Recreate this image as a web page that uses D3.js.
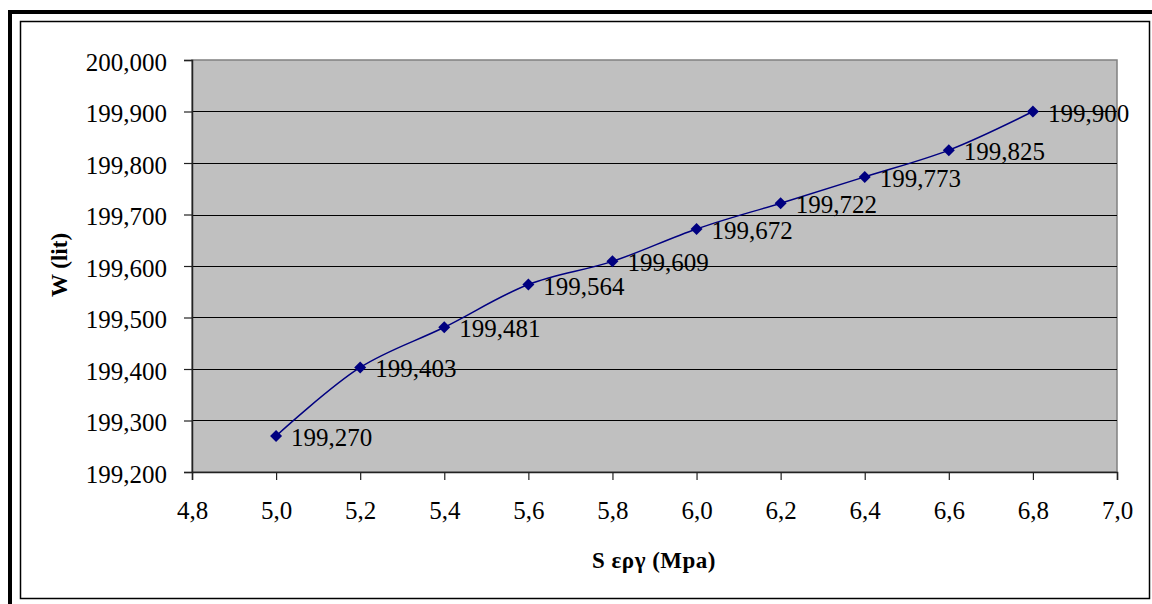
<!DOCTYPE html>
<html>
<head>
<meta charset="utf-8">
<script src="https://cdn.jsdelivr.net/npm/d3@7"></script>
<style>
  html, body { margin: 0; padding: 0; background: #fff; }
  svg { display: block; }
  text { font-family: "Liberation Serif", "Times New Roman", serif; fill: #000; }
</style>
</head>
<body>
<svg id="chart" width="1152" height="604"></svg>
<script>
// Working stress (MPa) and the corresponding volume W (lit)
const stress = [5.0, 5.2, 5.4, 5.6, 5.8, 6.0, 6.2, 6.4, 6.6, 6.8];
const volume = [199.270, 199.403, 199.481, 199.564, 199.609, 199.672, 199.722, 199.773, 199.825, 199.900];
const volumeLabels = ["199,270", "199,403", "199,481", "199,564", "199,609", "199,672", "199,722", "199,773", "199,825", "199,900"];

const xTicks = [4.8, 5.0, 5.2, 5.4, 5.6, 5.8, 6.0, 6.2, 6.4, 6.6, 6.8, 7.0];
const yTicks = [199.2, 199.3, 199.4, 199.5, 199.6, 199.7, 199.8, 199.9, 200.0];

const xTitle = "S εργ (Mpa)";
const yTitle = "W (lit)";

const svg = d3.select("#chart");

// Outer frame: heavy rule on top/left, thin box inside
svg.append("rect").attr("x", 0).attr("y", 0).attr("width", 1152).attr("height", 604).attr("fill", "#fff");
svg.append("rect").attr("x", 10).attr("y", 12).attr("width", 1160).attr("height", 620)
  .attr("fill", "none").attr("stroke", "#000").attr("stroke-width", 4);
svg.append("rect").attr("x", 20.5).attr("y", 21.5).attr("width", 1129).attr("height", 577)
  .attr("fill", "none").attr("stroke", "#000").attr("stroke-width", 1.5);

const plot = { left: 192, right: 1117, top: 60, bottom: 472 };

const x = d3.scaleLinear().domain([4.8, 7.0]).range([plot.left, plot.right]);
const y = d3.scaleLinear().domain([199.2, 200.0]).range([plot.bottom, plot.top]);

// Plot area
svg.append("rect")
  .attr("x", plot.left).attr("y", plot.top)
  .attr("width", plot.right - plot.left).attr("height", plot.bottom - plot.top)
  .attr("fill", "#c0c0c0").attr("stroke", "#808080").attr("stroke-width", 1.5);

// Horizontal gridlines
svg.append("g")
  .selectAll("line")
  .data(yTicks.slice(1, -1))
  .join("line")
  .attr("x1", plot.left).attr("x2", plot.right)
  .attr("y1", d => Math.round(y(d)) + 0.5).attr("y2", d => Math.round(y(d)) + 0.5)
  .attr("stroke", "#000").attr("stroke-width", 1);

const fmtY = d => Math.round(d * 1000).toString().replace(/^(\d{3})(\d{3})$/, "$1,$2");
const fmtX = d => d3.format(".1f")(d).replace(".", ",");

// Y axis
const yAxis = svg.append("g")
  .attr("transform", `translate(${plot.left},0)`)
  .call(d3.axisLeft(y).tickValues(yTicks).tickSize(8).tickPadding(17).tickFormat(fmtY));
yAxis.select(".domain").attr("stroke", "#222").attr("stroke-width", 1.5);
yAxis.selectAll(".tick line").attr("stroke", "#222").attr("stroke-width", 1.2);
yAxis.selectAll(".tick text")
  .attr("font-size", 25).attr("dy", "0.4em")
  .style("font-family", "'Liberation Serif', serif");

// X axis
const xAxis = svg.append("g")
  .attr("transform", `translate(0,${plot.bottom})`)
  .call(d3.axisBottom(x).tickValues(xTicks).tickSize(8).tickPadding(21).tickFormat(fmtX));
xAxis.select(".domain").attr("stroke", "#222").attr("stroke-width", 1.5);
xAxis.selectAll(".tick line").attr("stroke", "#222").attr("stroke-width", 1.2);
xAxis.selectAll(".tick text")
  .attr("font-size", 25)
  .style("font-family", "'Liberation Serif', serif");

// Series line (smoothed)
const line = d3.line()
  .x((d, i) => x(stress[i]))
  .y(d => y(d))
  .curve(d3.curveCatmullRom.alpha(0.5));

svg.append("path")
  .datum(volume)
  .attr("d", line)
  .attr("fill", "none")
  .attr("stroke", "#000080")
  .attr("stroke-width", 1.5);

// Diamond markers
const diamond = "M0,-6L6,0L0,6L-6,0Z";
svg.append("g")
  .selectAll("path")
  .data(volume)
  .join("path")
  .attr("d", diamond)
  .attr("transform", (d, i) => `translate(${x(stress[i])},${y(d)})`)
  .attr("fill", "#000080");

// Value labels
svg.append("g")
  .selectAll("text")
  .data(volume)
  .join("text")
  .attr("x", (d, i) => x(stress[i]) + 15)
  .attr("y", d => y(d) + 10)
  .attr("font-size", 25)
  .text((d, i) => volumeLabels[i]);

// Axis titles
svg.append("text")
  .attr("x", 654).attr("y", 568)
  .attr("text-anchor", "middle")
  .attr("font-size", 23).attr("font-weight", "bold")
  .attr("letter-spacing", 0.5)
  .text(xTitle);

svg.append("text")
  .attr("transform", "translate(67,265) rotate(-90)")
  .attr("text-anchor", "middle")
  .attr("font-size", 23).attr("font-weight", "bold")
  .text(yTitle);
</script>
</body>
</html>
